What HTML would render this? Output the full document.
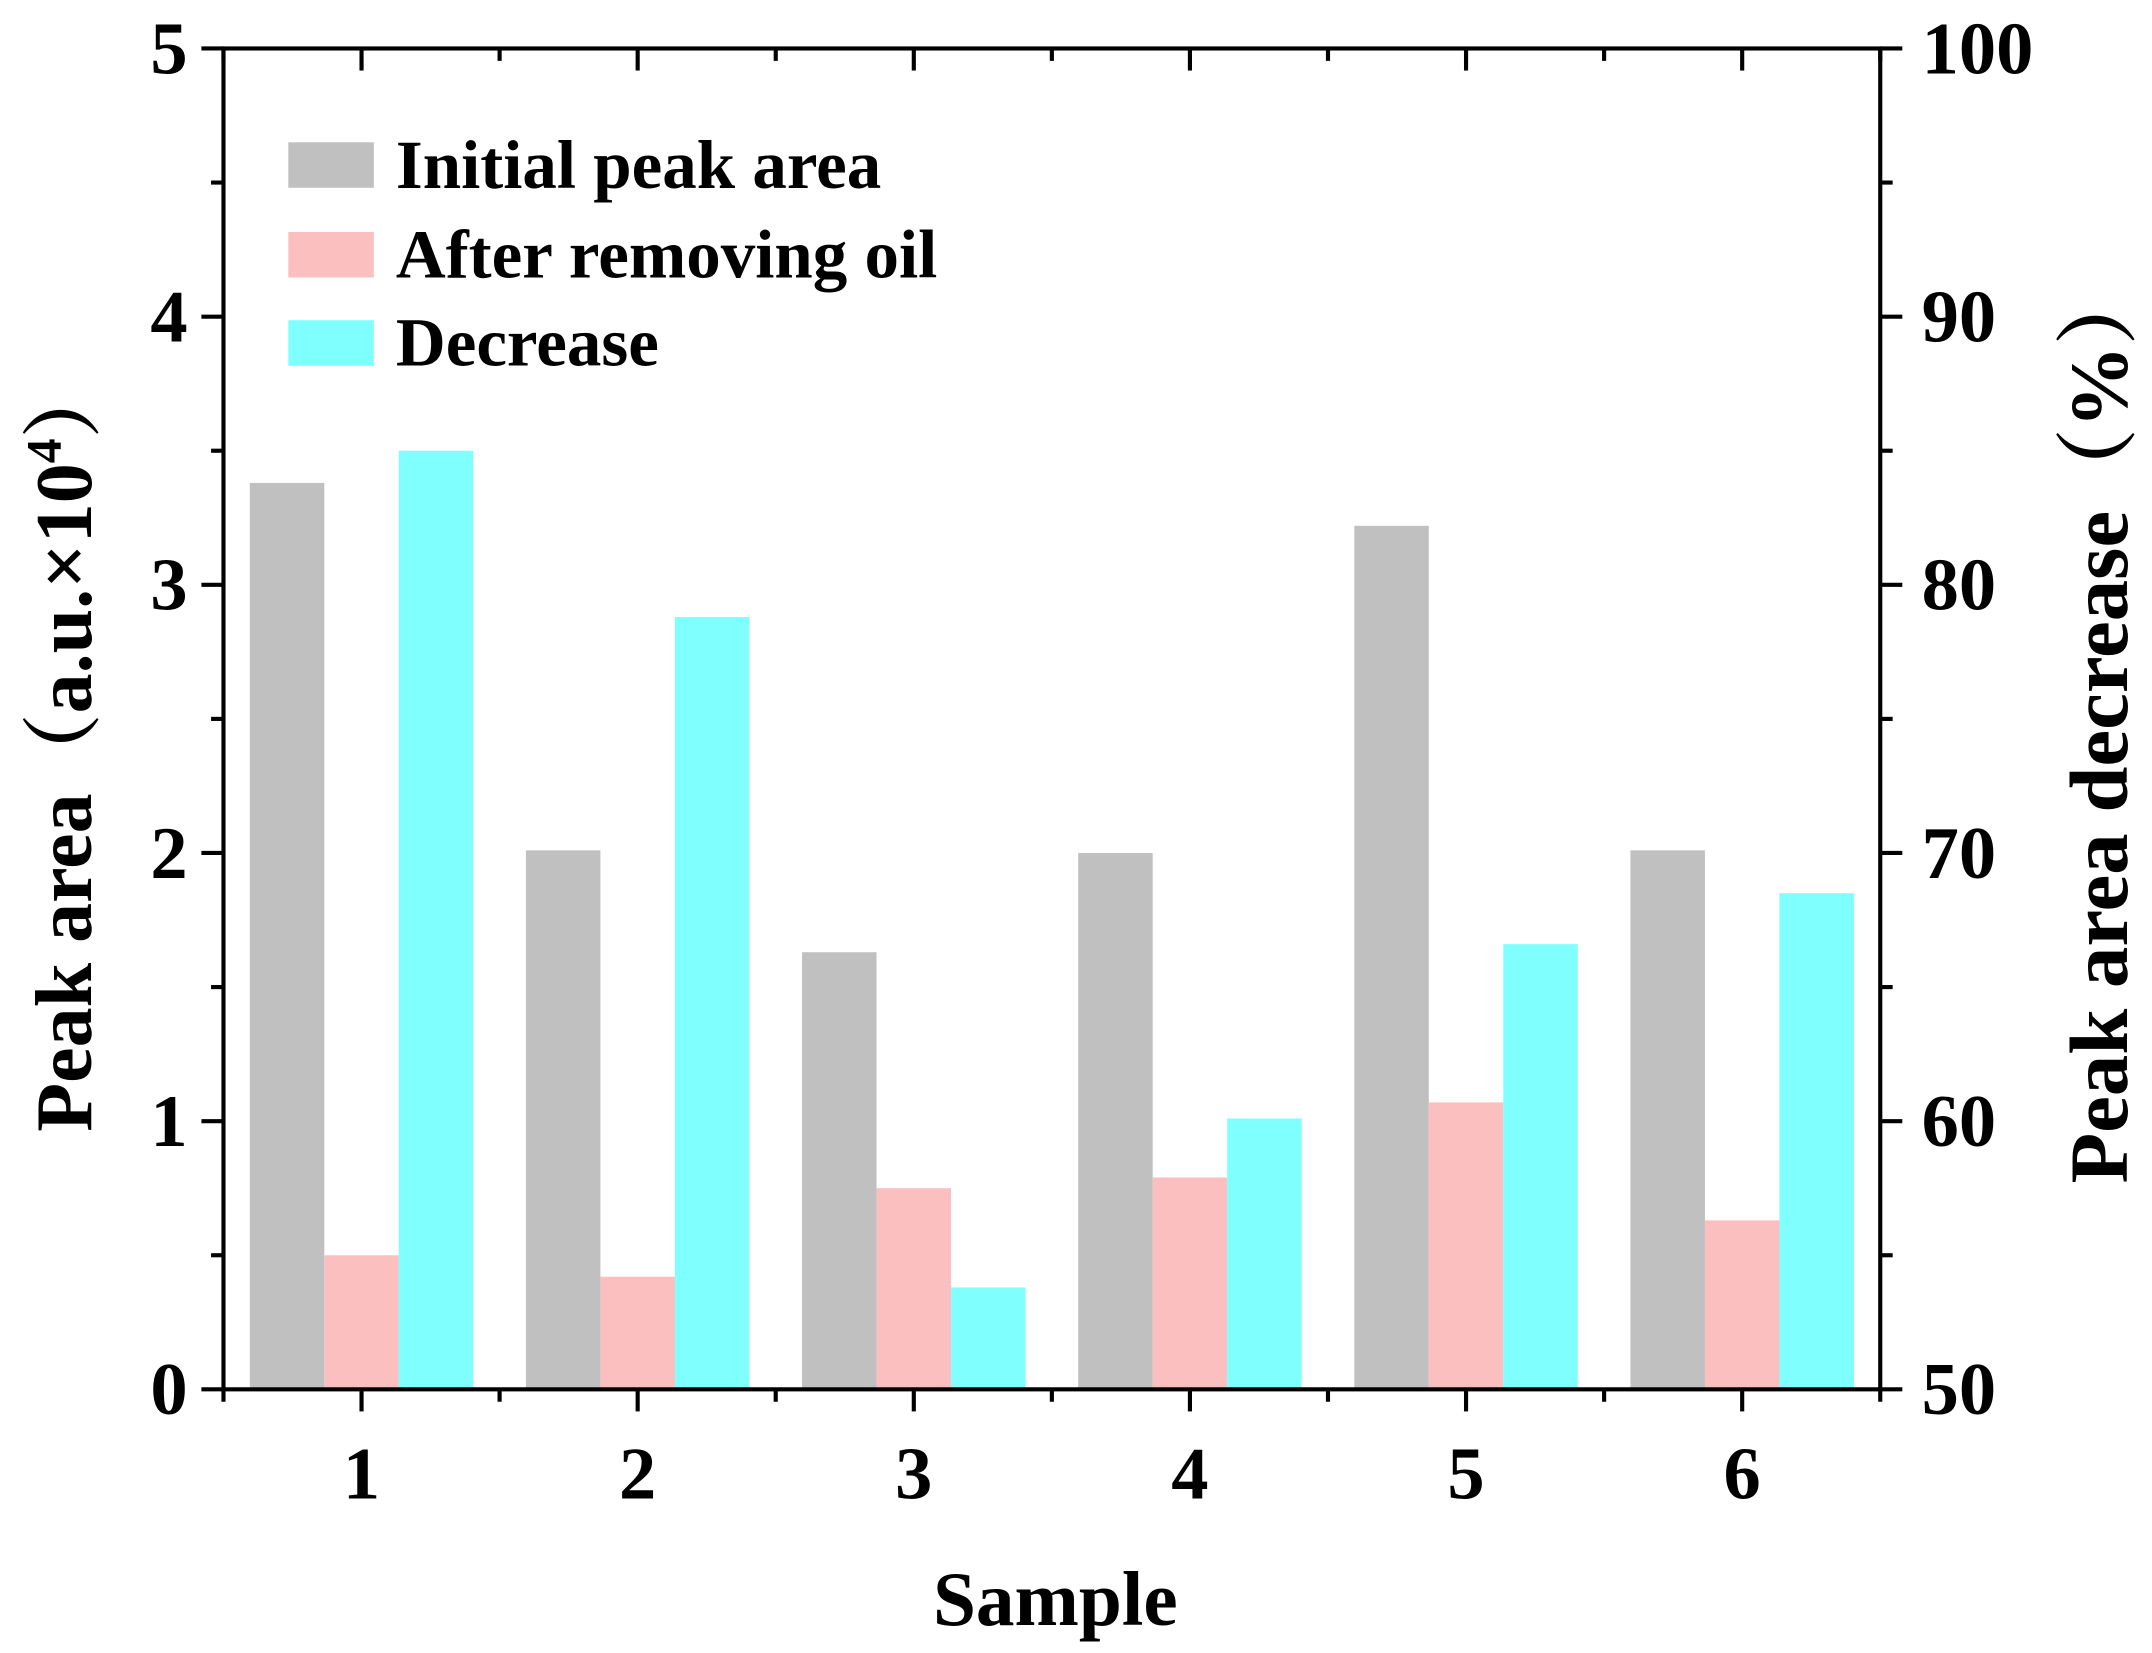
<!DOCTYPE html>
<html><head><meta charset="utf-8">
<style>
html,body{margin:0;padding:0;background:#fff;}
svg{display:block;}
text{font-family:"Liberation Serif","Noto Serif CJK SC",serif;font-weight:bold;fill:#000;}
</style></head>
<body>
<svg id="chart" width="2152" height="1653" viewBox="0 0 1560 1198" xmlns="http://www.w3.org/2000/svg">
<g id="plot"></g>
</svg>
<script>
const categories = ["1","2","3","4","5","6"];
const initialArea = [3.38, 2.01, 1.63, 2.0, 3.22, 2.01];
const afterOil = [0.50, 0.42, 0.75, 0.79, 1.07, 0.63];
const decreasePct = [85.0, 78.8, 53.8, 60.1, 66.6, 68.5];
const leftTicks = [0,1,2,3,4,5];
const rightTicks = [50,60,70,80,90,100];

const NS="http://www.w3.org/2000/svg";
const g=document.getElementById('plot');
const L=162,R=1363,T=35,B=1007;
const xs=i=>L+(i+0.5)*(R-L)/categories.length;
const yl=v=>B-(v/5)*(B-T);
const yr=v=>B-((v-50)/50)*(B-T);
const bw=54;
function mk(tag,attrs){const e=document.createElementNS(NS,tag);for(const k in attrs)e.setAttribute(k,attrs[k]);g.appendChild(e);return e;}
function txt(s,x,y,size,anchor,extra){const e=mk('text',Object.assign({x:x,y:y,'font-size':size,'text-anchor':anchor||'middle'},extra||{}));e.textContent=s;return e;}

const series=[[initialArea,'#c0c0c0',yl,'initial'],[afterOil,'#fbbfbf',yl,'after-oil'],[decreasePct,'#80ffff',yr,'decrease']];
series.forEach((s,si)=>{
  s[0].forEach((v,i)=>{
    const x=xs(i)-1.5*bw+si*bw;
    const y=s[2](v);
    const base=s[2]===yl?yl(0):yr(50);
    const r=mk('rect',{x:x,y:y,width:bw,height:base-y,fill:s[1]});
    
    
  });
});

const fr=mk('rect',{x:L,y:T,width:R-L,height:B-T,fill:'none',stroke:'#000','stroke-width':3});



leftTicks.forEach(v=>{
  mk('line',{x1:L-16,x2:L,y1:yl(v),y2:yl(v),stroke:'#000','stroke-width':3});
  if(v<5) mk('line',{x1:L-9,x2:L,y1:yl(v+0.5),y2:yl(v+0.5),stroke:'#000','stroke-width':3});
  const t=txt(String(v),L-26,yl(v)+18,54,'end');
  
  
});
rightTicks.forEach(v=>{
  mk('line',{x1:R,x2:R+16,y1:yr(v),y2:yr(v),stroke:'#000','stroke-width':3});
  if(v<100) mk('line',{x1:R,x2:R+9,y1:yr(v+5),y2:yr(v+5),stroke:'#000','stroke-width':3});
  const t=txt(String(v),R+30,yr(v)+18,54,'start');
  
  
});
categories.forEach((c,i)=>{
  mk('line',{x1:xs(i),x2:xs(i),y1:B,y2:B+16,stroke:'#000','stroke-width':3});
  mk('line',{x1:xs(i),x2:xs(i),y1:T,y2:T+16,stroke:'#000','stroke-width':3});
  const t=txt(c,xs(i),1086,54,'middle');
  
  
});
for(let i=0;i<=categories.length;i++){
  const x=L+i*(R-L)/categories.length;
  mk('line',{x1:x,x2:x,y1:B,y2:B+9,stroke:'#000','stroke-width':3});
  mk('line',{x1:x,x2:x,y1:T,y2:T+9,stroke:'#000','stroke-width':3});
}

const xt=txt('Sample',765,1178,56,'middle');


const ylt=mk('text',{x:0,y:0,'font-size':58,'text-anchor':'middle',transform:'translate(66,540) rotate(-90)'});
ylt.innerHTML='Peak area（a.u.×10<tspan dy="-22" font-size="36">4</tspan><tspan dy="22">）</tspan>';


const yrt=mk('text',{x:0,y:0,'font-size':60,'text-anchor':'middle',transform:'translate(1542,524) rotate(-90)'});
yrt.textContent='Peak area decrease（%）';



const leg=[['Initial peak area','#c0c0c0',103],['After removing oil','#fbbfbf',168],['Decrease','#80ffff',232]];
leg.forEach(l=>{
  const r=mk('rect',{x:209,y:l[2],width:62,height:33,fill:l[1]});
  
  
  const t=txt(l[0],287,l[2]+33,50,'start');
  
  
});
</script>
</body></html>
